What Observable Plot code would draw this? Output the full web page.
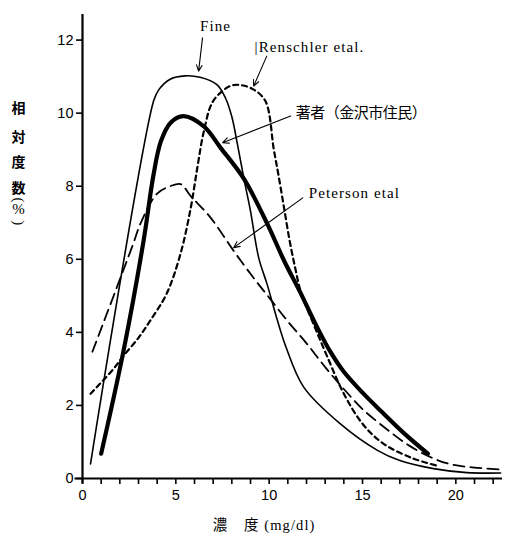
<!DOCTYPE html>
<html>
<head>
<meta charset="utf-8">
<script src="https://cdn.jsdelivr.net/npm/d3@7"></script>
<script src="https://cdn.jsdelivr.net/npm/@observablehq/plot@0.6"></script>
<style>
  html, body { margin: 0; padding: 0; background: #fff; }
  #chart { width: 505px; height: 538px; }
</style>
</head>
<body>
<div id="chart"></div>
<script>
// Concentration (mg/dl) vs relative frequency (%)
const fineX = [0.43, 3.82, 4.1, 4.7, 5.5, 6.3, 7.2, 7.67, 8.0, 8.3, 8.65, 9.0, 9.44, 9.9, 10.4, 10.9, 11.85, 13.8, 15.8, 17.0, 18.8, 20.6, 22.4];
const fineY = [0.4, 10.35, 10.65, 10.93, 11.02, 10.98, 10.78, 10.4, 9.9, 9.15, 8.2, 7.32, 6.04, 5.3, 4.4, 3.6, 2.5, 1.5, 0.77, 0.49, 0.27, 0.16, 0.15];

const authorX = [1.0, 2.2, 3.27, 3.8, 4.2, 4.72, 5.4, 6.5, 7.4, 8.65, 9.9, 10.8, 11.66, 12.58, 13.3, 14.0, 15.0, 16.0, 17.2, 18.5];
const authorY = [0.68, 3.5, 6.5, 8.3, 9.23, 9.74, 9.92, 9.64, 9.05, 8.2, 6.97, 5.96, 5.1, 4.13, 3.45, 2.92, 2.35, 1.84, 1.25, 0.68];

const petersonX = [0.53, 2.7, 3.1, 4.0, 4.7, 5.25, 5.8, 6.86, 8.1, 9.15, 10.0, 11.0, 12.0, 13.0, 14.0, 15.0, 16.3, 17.5, 18.8, 19.8, 21.0, 22.3];
const petersonY = [3.47, 6.4, 6.97, 7.8, 8.0, 8.06, 7.73, 7.14, 6.23, 5.5, 4.95, 4.3, 3.7, 3.05, 2.45, 1.9, 1.35, 0.9, 0.55, 0.38, 0.3, 0.25];

const renschlerX = [0.43, 1.66, 2.2, 3.0, 3.6, 4.5, 5.25, 5.8, 6.15, 6.5, 7.0, 7.9, 8.45, 9.15, 9.8, 10.25, 10.5, 10.8, 11.1, 11.4, 11.7, 12.4, 13.1, 14.0, 15.0, 16.1, 17.7, 19.0];
const renschlerY = [2.32, 3.0, 3.36, 3.85, 4.3, 5.05, 6.15, 7.41, 8.5, 9.5, 10.33, 10.74, 10.77, 10.65, 10.33, 9.0, 8.3, 7.4, 6.5, 5.75, 5.1, 4.2, 3.35, 2.32, 1.5, 0.96, 0.55, 0.35];

const xTicks = d3.range(0, 23);
const xTickLabels = [0, 5, 10, 15, 20];
const yTicks = [0, 2, 4, 6, 8, 10, 12];

// annotation labels & arrows (data coordinates)
const fineLabel = {t: "Fine", x: 7.13, y: 12.38};
const otherLabels = ["|Renschler etal.", "著者（金沢市住民）", "Peterson etal"];
const otherLabelX = [9.22, 11.42, 12.12];
const otherLabelY = [11.8, 9.99, 7.8];
const arrowX1 = [6.43, 9.87, 11.15, 11.8];
const arrowY1 = [12.06, 11.56, 9.92, 7.68];
const arrowX2 = [6.22, 9.17, 7.51, 8.1];
const arrowY2 = [11.15, 10.74, 9.19, 6.32];

const yTitleChars = ["相", "対", "度", "数"];
const yTitleY = [10.14, 9.32, 8.64, 7.93];
const yTitleParens = ["(", ")"];
const yTitleParenY = [7.62, 7.0];
const yTitlePercentY = 7.38;

const toPts = (xs, ys) => xs.map((x, i) => ({x, y: ys[i]}));
const labels = otherLabels.map((t, i) => ({t, x: otherLabelX[i], y: otherLabelY[i]}));
const arrows = arrowX1.map((x1, i) => ({x1, y1: arrowY1[i], x2: arrowX2[i], y2: arrowY2[i]}));

const serif = "'Liberation Serif', 'Noto Sans CJK JP', serif";
const cjk = "'Noto Sans CJK JP', sans-serif";
const curve = "catmull-rom";

const chart = Plot.plot({
  width: 505,
  height: 538,
  marginLeft: 82,
  marginRight: 3,
  marginTop: 14,
  marginBottom: 60,
  x: {domain: [0, 22.5]},
  y: {domain: [0, 12.7]},
  style: {background: "#fff", color: "#000", fontFamily: "'Liberation Sans', sans-serif"},
  marks: [
    Plot.axisX({ticks: xTicks, tickSize: 6, tickPadding: 5, strokeWidth: 1.6, fontSize: 14.5,
      tickFormat: d => xTickLabels.includes(d) ? String(d) : "", label: null}),
    Plot.axisY({ticks: yTicks, tickSize: 6, tickPadding: 3, strokeWidth: 1.6, fontSize: 14.5, label: null}),
    Plot.ruleY([0], {x1: -0.4, x2: 22.5, strokeWidth: 2.2}),
    Plot.ruleX([0], {y1: -0.15, y2: 12.7, strokeWidth: 2.2}),
    Plot.line(toPts(fineX, fineY), {x: "x", y: "y", stroke: "#000", strokeWidth: 1.6, curve}),
    Plot.line(toPts(authorX, authorY), {x: "x", y: "y", stroke: "#000", strokeWidth: 4.2, curve}),
    Plot.line(toPts(petersonX, petersonY), {x: "x", y: "y", stroke: "#000", strokeWidth: 1.8, strokeDasharray: "11,6", curve}),
    Plot.line(toPts(renschlerX, renschlerY), {x: "x", y: "y", stroke: "#000", strokeWidth: 2.2, strokeDasharray: "5,4", curve}),
    Plot.arrow(arrows, {x1: "x1", y1: "y1", x2: "x2", y2: "y2", stroke: "#000", strokeWidth: 1.1, headLength: 9, headAngle: 50}),
    Plot.text([fineLabel], {x: "x", y: "y", text: "t", textAnchor: "middle", fontFamily: serif, fontSize: 15, fill: "#000"}),
    Plot.text(labels, {x: "x", y: "y", text: "t", textAnchor: "start", fontFamily: serif, fontSize: 15, fill: "#000"}),
    Plot.text(yTitleChars, {y: (d, i) => yTitleY[i], text: d => d, frameAnchor: "left", textAnchor: "middle", dx: -64,
      fontFamily: cjk, fontWeight: "bold", fontSize: 14, fill: "#000"}),
    Plot.text(yTitleParens, {y: (d, i) => yTitleParenY[i], text: d => d, frameAnchor: "left", textAnchor: "middle", dx: -64,
      rotate: 90, fontFamily: serif, fontSize: 15, fill: "#000"}),
    Plot.text(["%"], {y: [yTitlePercentY], frameAnchor: "left", textAnchor: "middle", dx: -64,
      fontFamily: serif, fontSize: 15, fill: "#000"}),
    Plot.text(["濃　度 (mg/dl)"], {x: [9.73], frameAnchor: "bottom", dy: 51, fontFamily: serif, fontSize: 14.5, fill: "#000"})
  ]
});
// slightly spaced type, as in the reference's typewriter-like lettering
d3.select(chart).selectAll("text")
  .filter(function() { return /etal|Fine|mg\/dl/.test(this.textContent); })
  .style("letter-spacing", "1.1px");
d3.select(chart).selectAll("text")
  .filter(function() { return /金沢/.test(this.textContent); })
  .style("letter-spacing", "-0.5px");
document.getElementById("chart").appendChild(chart);
</script>
</body>
</html>
